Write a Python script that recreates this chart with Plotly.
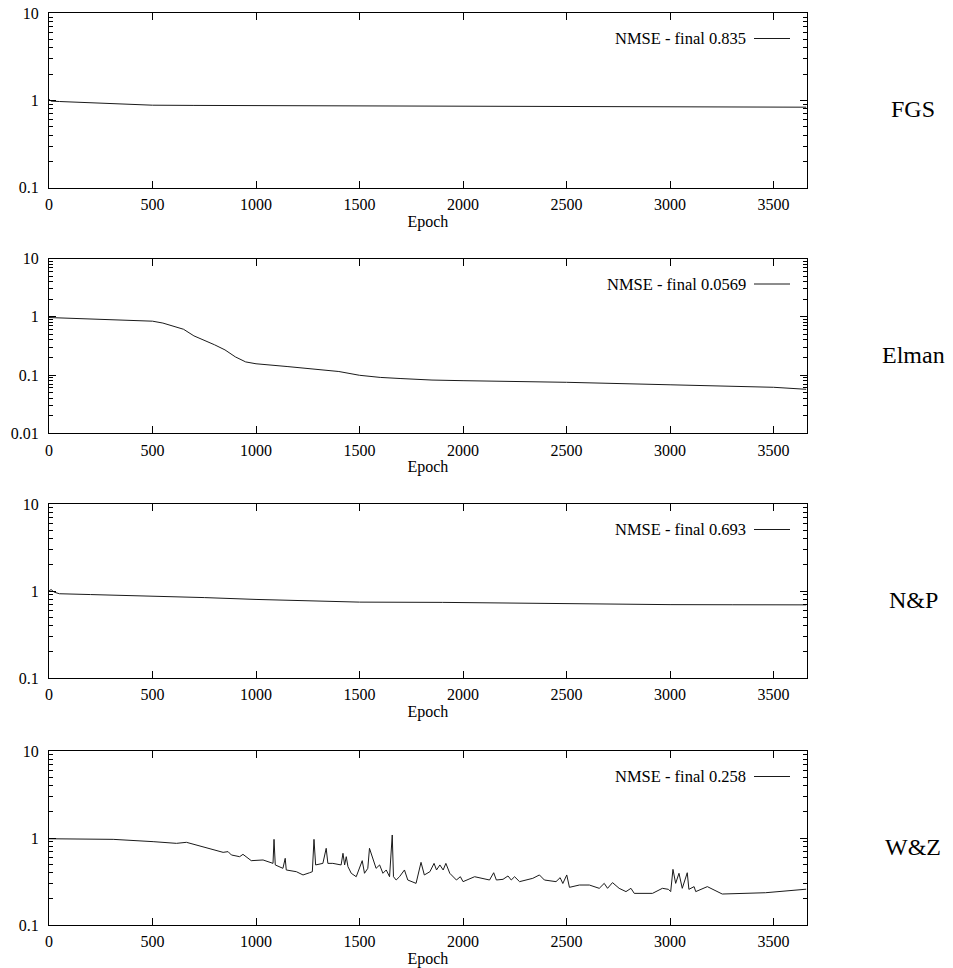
import plotly.graph_objects as go

# ---------------- data ----------------
fgs_epoch = [0, 10, 50, 100, 200, 300, 400, 500, 700, 1000, 1500, 2000, 2500, 3000, 3300, 3658]
fgs_nmse = [1.03, 0.98, 0.97, 0.96, 0.94, 0.92, 0.90, 0.88, 0.875, 0.872, 0.868, 0.865, 0.86, 0.855, 0.85, 0.835]

elman_epoch = [0, 100, 200, 300, 400, 500, 550, 600, 650, 700, 750, 800, 850, 900, 950, 1000,
               1150, 1300, 1400, 1500, 1600, 1700, 1850, 2000, 2500, 3000, 3500, 3658]
elman_nmse = [0.97, 0.94, 0.92, 0.90, 0.88, 0.84, 0.78, 0.69, 0.61, 0.47, 0.40, 0.33, 0.27, 0.205,
              0.168, 0.156, 0.14, 0.124, 0.115, 0.099, 0.091, 0.087, 0.082, 0.080, 0.075, 0.068,
              0.0616, 0.0569]

np_epoch = [0, 10, 25, 50, 200, 500, 750, 1000, 1250, 1500, 1900, 2000, 2250, 2500, 2800, 3000,
            3300, 3658]
np_nmse = [1.0, 1.04, 0.97, 0.93, 0.91, 0.876, 0.84, 0.80, 0.77, 0.745, 0.74, 0.735, 0.72, 0.71,
           0.70, 0.697, 0.695, 0.693]

wz_epoch = [0, 310, 503, 616, 664, 793, 841, 865, 881, 921, 937, 977, 1034, 1082, 1087, 1093,
            1130, 1141, 1146, 1195, 1227, 1259, 1272, 1280, 1288, 1323, 1331, 1339, 1347, 1371,
            1411, 1420, 1428, 1436, 1444, 1460, 1484, 1500, 1513, 1524, 1540, 1548, 1564, 1580,
            1597, 1613, 1629, 1645, 1658, 1664, 1677, 1693, 1717, 1733, 1773, 1797, 1813, 1840,
            1860, 1872, 1888, 1904, 1917, 1936, 1968, 1987, 2000, 2056, 2128, 2148, 2161, 2193,
            2217, 2233, 2249, 2273, 2337, 2369, 2393, 2449, 2469, 2482, 2501, 2514, 2562, 2610,
            2658, 2682, 2698, 2722, 2754, 2787, 2811, 2827, 2915, 2963, 2992, 3003, 3014, 3027,
            3043, 3059, 3083, 3091, 3116, 3124, 3180, 3204, 3252, 3461, 3658]
wz_nmse = [0.98, 0.965, 0.908, 0.868, 0.892, 0.728, 0.684, 0.697, 0.638, 0.610, 0.649, 0.549,
           0.559, 0.511, 0.965, 0.490, 0.448, 0.584, 0.429, 0.410, 0.376, 0.399, 0.41, 0.965,
           0.490, 0.511, 0.638, 0.761, 0.511, 0.511, 0.490, 0.667, 0.490, 0.610, 0.469, 0.393,
           0.359, 0.469, 0.549, 0.393, 0.448, 0.761, 0.584, 0.448, 0.490, 0.393, 0.429, 0.359,
           1.083, 0.359, 0.329, 0.359, 0.429, 0.329, 0.301, 0.525, 0.376, 0.410, 0.511, 0.429,
           0.490, 0.429, 0.511, 0.393, 0.329, 0.359, 0.315, 0.359, 0.329, 0.399, 0.329, 0.335,
           0.366, 0.329, 0.359, 0.315, 0.344, 0.376, 0.329, 0.315, 0.35, 0.30, 0.376, 0.271,
           0.288, 0.288, 0.264, 0.301, 0.264, 0.307, 0.264, 0.242, 0.264, 0.231, 0.231, 0.264,
           0.257, 0.242, 0.436, 0.301, 0.393, 0.264, 0.399, 0.257, 0.276, 0.242, 0.276, 0.257,
           0.227, 0.235, 0.258]

panel_names = ["FGS", "Elman", "N&P", "W&Z"]
legend_texts = ["NMSE - final 0.835", "NMSE - final 0.0569", "NMSE - final 0.693", "NMSE - final 0.258"]
x_ticks = [0, 500, 1000, 1500, 2000, 2500, 3000, 3500]
y_decades = [[-1, 1], [-2, 1], [-1, 1], [-1, 1]]

series = [(fgs_epoch, fgs_nmse), (elman_epoch, elman_nmse), (np_epoch, np_nmse), (wz_epoch, wz_nmse)]

# ---------------- layout geometry (pixels) ----------------
W, H = 953, 968
x_left, x_right = 49, 806.7
panel_px = [(13, 187.7), (258.5, 433.3), (504, 678), (751, 925)]

FONT = "Liberation Serif, Times New Roman, serif"
fig = go.Figure()
layout = dict(
    width=W, height=H,
    margin=dict(l=0, r=0, t=0, b=0, autoexpand=False),
    paper_bgcolor="white", plot_bgcolor="white",
    showlegend=False,
    font=dict(family=FONT, size=16, color="black"),
    annotations=[], shapes=[],
)

for i, ((ex, ev), name, leg, dec) in enumerate(zip(series, panel_names, legend_texts, y_decades)):
    n = i + 1
    xa = "xaxis" if n == 1 else f"xaxis{n}"
    ya = "yaxis" if n == 1 else f"yaxis{n}"
    xr = "x" if n == 1 else f"x{n}"
    yr = "y" if n == 1 else f"y{n}"
    top, bot = panel_px[i]
    fig.add_trace(go.Scatter(x=ex, y=ev, mode="lines", xaxis=xr, yaxis=yr,
                             line=dict(color="#1a1a1a", width=1), name=leg))
    major = [10 ** d for d in range(dec[0], dec[1] + 1)]
    major_txt = [("%g" % v) for v in major]
    minor = [m * 10 ** d for d in range(dec[0], dec[1]) for m in range(2, 10)]
    layout[xa] = dict(
        domain=[x_left / W, x_right / W], anchor=yr, range=[0, 3660], automargin=False,
        tickmode="array", tickvals=x_ticks, ticks="inside", ticklen=7, tickwidth=1,
        tickcolor="black", showline=True, linecolor="black", linewidth=1, mirror="allticks",
        showgrid=False, zeroline=False, tickfont=dict(family=FONT, size=16),
        title=dict(text="Epoch", font=dict(family=FONT, size=16), standoff=0),
        ticklabelstandoff=2,
    )
    layout[ya] = dict(
        domain=[1 - bot / H, 1 - top / H], anchor=xr, type="log", range=dec, automargin=False,
        tickmode="array", tickvals=major, ticktext=major_txt, ticks="inside", ticklen=7,
        tickwidth=1, tickcolor="black", showline=True, linecolor="black", linewidth=1,
        mirror="allticks", showgrid=False, zeroline=False,
        tickfont=dict(family=FONT, size=16), ticklabelstandoff=6,
        minor=dict(tickmode="array", tickvals=minor, ticks="inside", ticklen=4,
                   tickwidth=1, tickcolor="black", showgrid=False),
    )
    # legend text + sample line (gnuplot style key)
    ly = 1 - (top + 25.5) / H
    layout["annotations"].append(dict(
        xref="paper", yref="paper", x=748 / W, y=ly, xanchor="right", yanchor="middle",
        text=leg, showarrow=False, font=dict(family=FONT, size=16.5)))
    layout["shapes"].append(dict(
        type="line", xref="paper", yref="paper", x0=754 / W, x1=790 / W, y0=ly, y1=ly,
        line=dict(color="#1a1a1a", width=1)))
    # panel name on the right
    layout["annotations"].append(dict(
        xref="paper", yref="paper", x=913 / W, y=1 - ((top + bot) / 2 + 9) / H,
        xanchor="center", yanchor="middle", text=name, showarrow=False,
        font=dict(family=FONT, size=24)))

fig.update_layout(**layout)
fig.write_html("out.html")
